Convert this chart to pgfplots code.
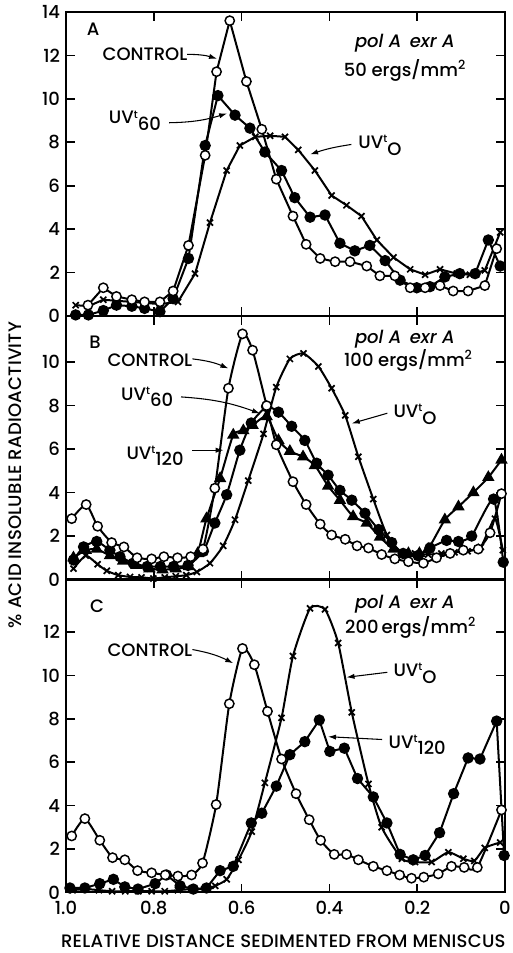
\documentclass[border=0pt]{standalone}
\usepackage{fontspec}
\setmainfont{Poppins}
\newfontfamily\labfont{Poppins Medium}[ItalicFont={Poppins Medium Italic}]
\usepackage{pgfplots}
\pgfplotsset{compat=1.18}
\usetikzlibrary{arrows.meta}
\newcommand{\uvt}[1]{UV\raisebox{0.6ex}{\footnotesize t}\raisebox{-0.65ex}{#1}}
\newcommand{\lab}{\labfont\fontsize{13.5}{15}\selectfont}
\tikzset{arr/.style={-{Latex[length=6pt,width=4pt]}, line width=0.8pt}}
\pgfplotsset{
  panel/.style={
    scale only axis, width=329.25pt, x dir=reverse, xmin=0, xmax=1, ymin=0,
    xtick={0,0.2,0.4,0.6,0.8,1}, xticklabels={},
    tick align=inside, major tick length=6.5pt,
    every tick/.style={line width=1.3pt, black},
    axis line style={line width=1.6pt},
    /pgf/number format/assume math mode=true,
    ticklabel style={font=\lab},
    yticklabel style={xshift=-1pt},
    xticklabel style={yshift=-3pt},
    clip=false,
  },
  ctrl/.style={black, line width=1.5pt, mark=*, mark size=3.5pt, mark options={fill=white, line width=1.1pt}},
  filc/.style={black, line width=1.5pt, mark=*, mark size=3.5pt, mark options={fill=black}},
  xs/.style={black, line width=1.5pt, mark=x, mark size=3.2pt, mark options={line width=1.3pt}},
  tri/.style={black, line width=1.5pt, mark=triangle*, mark size=3.9pt, mark options={fill=black}},
}
\begin{document}
\begin{tikzpicture}
% ---------------- Panel A ----------------
\begin{axis}[panel, at={(49.5pt,477.75pt)}, anchor=south west, height=228pt, ymax=14, ytick={0,2,...,14}]
\addplot[xs] coordinates {(0.978,0.5)(0.949,0.45)(0.915,0.75)(0.885,0.7)(0.850,0.65)(0.821,0.6)(0.786,0.55)(0.745,0.65)(0.706,1.95)(0.672,4.3)(0.634,6.7)(0.604,7.85)(0.569,8.25)(0.535,8.3)(0.501,8.25)(0.471,7.65)(0.433,6.7)(0.395,5.55)(0.361,5.1)(0.327,4.6)(0.292,3.5)(0.254,2.7)(0.216,2.15)(0.182,1.9)(0.148,2.15)(0.110,1.95)(0.080,1.9)(0.046,2.1)(0.011,3.85)};
\addplot[filc] coordinates {(0.978,0.05)(0.949,0.05)(0.915,0.25)(0.885,0.5)(0.850,0.45)(0.821,0.35)(0.786,0.2)(0.756,0.8)(0.721,2.65)(0.683,7.85)(0.654,10.15)(0.615,9.25)(0.581,8.65)(0.547,7.55)(0.509,6.7)(0.479,5.45)(0.444,4.55)(0.410,4.65)(0.376,3.35)(0.342,3.0)(0.308,3.25)(0.273,2.55)(0.239,1.65)(0.201,1.3)(0.171,1.35)(0.137,1.8)(0.103,1.95)(0.068,1.95)(0.038,3.5)(0.011,2.3)};
\addplot[ctrl] coordinates {(0.950,0.5)(0.915,1.3)(0.885,0.9)(0.850,0.75)(0.821,0.65)(0.786,0.65)(0.756,1.15)(0.721,3.25)(0.683,7.4)(0.657,11.25)(0.627,13.6)(0.589,10.8)(0.554,8.6)(0.521,6.3)(0.483,4.6)(0.453,3.3)(0.421,2.65)(0.387,2.5)(0.353,2.5)(0.315,2.3)(0.285,1.85)(0.251,1.85)(0.216,1.3)(0.182,1.3)(0.148,1.4)(0.118,1.15)(0.084,1.15)(0.046,1.4)(0.019,3.1)};
\node[font=\lab] at (axis cs:0.938,13.2) {A};
\node[font=\lab] at (axis cs:0.82,12.05) {CONTROL};
\draw[arr] (axis cs:0.724,12.05) to[bend left=8] (axis cs:0.656,11.85);
\node[font=\lab] at (axis cs:0.843,9.0) {\uvt{60}};
\draw[arr] (axis cs:0.765,8.9) to[bend right=8] (axis cs:0.633,9.33);
\node[font=\lab] at (axis cs:0.285,7.85) {\uvt{O}};
\draw[arr] (axis cs:0.350,7.9) to[bend right=5] (axis cs:0.444,7.44);
\node[font=\lab\itshape] at (axis cs:0.228,12.55) {pol A\, exr A};
\node[font=\lab] at (axis cs:0.228,11.3) {50 ergs/mm\textsuperscript{2}};
\end{axis}
% ---------------- Panel B ----------------
\begin{axis}[panel, at={(49.5pt,280.1pt)}, anchor=south west, height=197.6pt, ymax=12.12, ytick={0,2,...,10}]
\addplot[xs, smooth, tension=0.35] coordinates {(0.983,0.5)(0.955,1.1)(0.928,0.7)(0.907,0.4)(0.881,0.2)(0.854,0.12)(0.828,0.1)(0.801,0.05)(0.775,0.1)(0.750,0.15)(0.726,0.2)(0.702,0.35)(0.672,0.75)(0.642,1.55)(0.615,2.75)(0.585,4.55)(0.550,6.7)(0.521,8.85)(0.490,10.15)(0.459,10.4)(0.425,9.8)(0.395,8.8)(0.364,7.55)(0.334,5.65)(0.300,3.7)(0.269,2.05)(0.235,1.2)(0.205,1.2)(0.175,1.15)(0.145,1.2)(0.115,1.25)(0.085,1.3)(0.055,1.5)(0.023,2.8)(0.005,1.35)};
\addplot[tri, smooth, tension=0.35] coordinates {(0.983,1.0)(0.955,1.35)(0.930,1.4)(0.900,1.1)(0.870,0.85)(0.840,0.65)(0.810,0.5)(0.780,0.45)(0.750,0.5)(0.720,0.6)(0.700,1.2)(0.680,2.8)(0.649,4.65)(0.619,6.65)(0.596,6.85)(0.575,7.1)(0.543,7.5)(0.516,6.4)(0.490,5.9)(0.460,5.65)(0.433,5.25)(0.403,4.3)(0.376,3.65)(0.346,2.9)(0.315,2.6)(0.285,1.95)(0.254,1.4)(0.220,1.2)(0.195,1.2)(0.175,1.4)(0.137,2.75)(0.106,3.35)(0.072,4.0)(0.038,4.7)(0.008,5.5)};
\addplot[filc, smooth, tension=0.35] coordinates {(0.983,0.9)(0.960,1.5)(0.930,1.75)(0.900,1.35)(0.877,1.05)(0.847,0.75)(0.815,0.6)(0.785,0.6)(0.755,0.6)(0.722,0.65)(0.687,1.3)(0.661,2.6)(0.634,3.9)(0.604,5.95)(0.578,7.2)(0.543,7.95)(0.516,7.7)(0.486,7.05)(0.456,6.4)(0.429,5.35)(0.403,4.8)(0.376,4.1)(0.349,3.65)(0.319,3.05)(0.288,2.3)(0.258,1.7)(0.232,1.2)(0.198,1.1)(0.171,1.45)(0.133,1.8)(0.106,1.75)(0.076,2.0)(0.026,3.7)(0.004,0.8)};
\addplot[ctrl, smooth, tension=0.35] coordinates {(0.987,2.8)(0.954,3.45)(0.928,2.45)(0.896,1.7)(0.868,1.5)(0.838,1.0)(0.805,0.95)(0.777,1.05)(0.746,1.0)(0.716,1.05)(0.688,1.4)(0.661,4.2)(0.630,8.8)(0.598,11.3)(0.575,10.55)(0.543,8.0)(0.521,6.2)(0.483,4.5)(0.453,3.45)(0.421,2.55)(0.395,2.05)(0.364,1.85)(0.337,1.55)(0.311,1.45)(0.281,1.15)(0.251,0.95)(0.220,0.82)(0.186,0.75)(0.156,1.0)(0.125,1.2)(0.095,1.35)(0.061,1.4)(0.034,2.15)(0.008,3.95)};
\node[font=\lab] at (axis cs:0.934,10.9) {B};
\node[font=\lab] at (axis cs:0.809,10.1) {CONTROL};
\draw[arr] (axis cs:0.712,10.15) to[bend left=8] (axis cs:0.630,9.71);
\node[font=\lab] at (axis cs:0.815,8.4) {\uvt{60}};
\draw[arr] (axis cs:0.738,8.4) to[bend left=8] (axis cs:0.558,7.64);
\node[font=\lab] at (axis cs:0.797,5.7) {\uvt{120}};
\draw[arr] (axis cs:0.712,5.95) -- (axis cs:0.641,5.95);
\node[font=\lab] at (axis cs:0.205,7.6) {\uvt{O}};
\draw[arr] (axis cs:0.268,7.65) -- (axis cs:0.349,7.18);
\node[font=\lab\itshape] at (axis cs:0.228,11.05) {pol A\, exr A};
\node[font=\lab] at (axis cs:0.220,10.1) {100 ergs/mm\textsuperscript{2}};
\end{axis}
% ---------------- Panel C ----------------
\begin{axis}[panel, at={(49.5pt,45.5pt)}, anchor=south west, height=234.6pt, ymax=14.43, ytick={0,2,...,12},
  xticklabels={0,0.2,0.4,0.6,0.8,1.0}]
\addplot[xs, smooth, tension=0.35] coordinates {(0.985,0.1)(0.955,0.15)(0.925,0.1)(0.895,0.05)(0.865,0.05)(0.835,0.05)(0.805,0.05)(0.775,0.05)(0.745,0.1)(0.715,0.15)(0.685,0.15)(0.660,0.3)(0.634,0.6)(0.607,1.5)(0.577,2.8)(0.547,5.05)(0.509,8.05)(0.483,10.9)(0.444,13.1)(0.410,13.05)(0.380,11.5)(0.349,8.3)(0.311,5.0)(0.281,3.0)(0.235,1.55)(0.205,1.4)(0.167,1.4)(0.129,1.85)(0.095,1.55)(0.070,1.45)(0.046,2.05)(0.011,2.3)};
\addplot[filc] coordinates {(0.991,0.2)(0.957,0.2)(0.923,0.4)(0.892,0.6)(0.866,0.25)(0.836,0.15)(0.797,0.4)(0.771,0.8)(0.740,0.3)(0.710,0.15)(0.680,0.2)(0.649,1.0)(0.619,1.2)(0.578,3.2)(0.554,3.65)(0.521,4.9)(0.490,6.35)(0.456,6.95)(0.423,7.95)(0.399,6.5)(0.366,6.65)(0.336,5.25)(0.300,4.4)(0.269,3.2)(0.239,1.75)(0.209,1.5)(0.182,1.7)(0.149,2.75)(0.117,4.55)(0.084,6.2)(0.057,6.15)(0.019,7.9)(0.002,1.7)};
\addplot[ctrl, smooth, tension=0.35] coordinates {(0.987,2.6)(0.957,3.4)(0.923,2.4)(0.894,1.6)(0.866,1.5)(0.837,1.0)(0.805,0.9)(0.774,0.8)(0.745,0.75)(0.714,0.8)(0.689,1.35)(0.658,4.05)(0.628,8.7)(0.598,11.25)(0.571,10.5)(0.541,8.35)(0.509,6.15)(0.476,4.55)(0.446,3.35)(0.420,2.4)(0.389,1.75)(0.361,1.75)(0.334,1.5)(0.300,1.2)(0.269,1.0)(0.240,0.8)(0.213,0.65)(0.185,0.7)(0.152,0.85)(0.122,1.2)(0.093,1.15)(0.063,1.15)(0.008,3.8)};
\node[font=\lab] at (axis cs:0.929,13.2) {C};
\node[font=\lab] at (axis cs:0.809,11.18) {CONTROL};
\draw[arr] (axis cs:0.712,11.2) to[bend left=8] (axis cs:0.619,10.57);
\node[font=\lab] at (axis cs:0.205,10.1) {\uvt{O}};
\draw[arr] (axis cs:0.268,10.15) -- (axis cs:0.361,9.92);
\node[font=\lab] at (axis cs:0.200,6.8) {\uvt{120}};
\draw[arr] (axis cs:0.28,7.05) -- (axis cs:0.403,7.18);
\node[font=\lab\itshape] at (axis cs:0.228,13.3) {pol A\, exr A};
\node[font=\lab] at (axis cs:0.215,12.2) {200\,ergs/mm\textsuperscript{2}};
\end{axis}
\node[font=\lab\addfontfeatures{LetterSpace=1.5}, rotate=90] at (11.25pt,358.5pt) {\% ACID INSOLUBLE RADIOACTIVITY};
\node[font=\lab\addfontfeatures{LetterSpace=1.5}] at (212.5pt,8.5pt) {RELATIVE DISTANCE SEDIMENTED FROM MENISCUS};
\pgfresetboundingbox
\path[use as bounding box] (0,0) rectangle (384.75pt,714.75pt);
\end{tikzpicture}
\end{document}
